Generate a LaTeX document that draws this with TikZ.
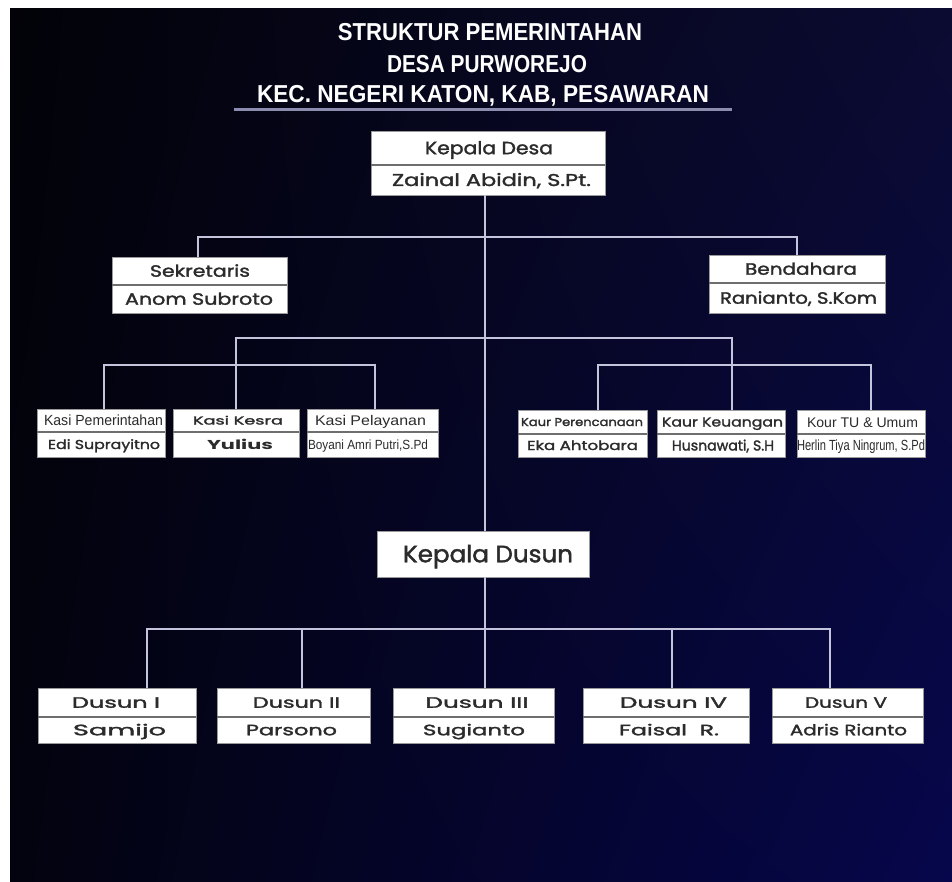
\documentclass[tikz,border=0pt]{standalone}
\usepackage{fontspec}
\usepackage{graphicx}
\usetikzlibrary{shadings}
\setmainfont{Poppins}
\newfontfamily\libs{Liberation Sans}
\newfontfamily\popm[FakeBold=1.6]{Poppins}
\definecolor{bgUL}{HTML}{020208}
\definecolor{bgUR}{HTML}{0B0B32}
\definecolor{bgLL}{HTML}{03030F}
\definecolor{bgLR}{HTML}{06064C}
\definecolor{txtgray}{HTML}{2B2B2B}
\definecolor{linecol}{HTML}{C4C4DC}
\definecolor{boxedge}{HTML}{9A9A9A}
\definecolor{divgray}{HTML}{6E6E6E}
\definecolor{ulcol}{HTML}{8C8CAE}
\newcommand\fitw[2]{\resizebox{#1pt}{\height}{#2}}
% name, x1, y1, x2, y2
\newcommand\bx[5]{\node[boxst, minimum width={(#4-#2)*1pt}, minimum height={(#5-#3)*1pt}] (#1) at ({(#2+#4)/2},{(#3+#5)/2}) {};}
% name, x, y, capheight, fontsize, width, fontcmd, text
\newcommand\tx[8]{\node[txt, font={#7\fontsize{#5}{#5}\selectfont}, text height=#4pt] (#1) at (#2,#3) {\fitw{#6}{#8}};}
\tikzset{
  boxst/.style={draw=boxedge, fill=white, line width=0.8pt, inner sep=0pt, outer sep=0pt},
  divst/.style={draw=divgray, line width=1.5pt},
  con/.style={draw=linecol, line width=2.5pt},
  txt/.style={inner sep=0pt, outer sep=0pt, text=txtgray, text depth=0pt, anchor=center},
  ttl/.style={inner sep=0pt, outer sep=0pt, text=white, text depth=0pt, anchor=center,
    font={\libs\bfseries\fontsize{24.5}{24.5}\selectfont}, text height=17.5pt},
}
\begin{document}
\begin{tikzpicture}[x=1pt,y=-1pt]
\useasboundingbox (0,0) rectangle (952,882);
\fill[white] (0,0) rectangle (952,882);
\shade[upper left=bgUL, upper right=bgUR, lower left=bgLL, lower right=bgLR] (10,9) rectangle (952,882);

% title
\node[ttl] (t1) at (490,32) {\fitw{304}{STRUKTUR PEMERINTAHAN}};
\node[ttl] (t2) at (487,64) {\fitw{200}{DESA PURWOREJO}};
\node[ttl] (t3) at (483,94) {\fitw{452}{KEC. NEGERI KATON, KAB, PESAWARAN}};
\draw[draw=ulcol, line width=3pt] (234,110) -- (732,110);

\coordinate (sp1) at (485,237);
% boxes
\bx{kd}{371}{131}{605}{195}
\bx{sek}{112}{257}{287}{313}
\bx{ben}{709}{255}{885}{313}
\bx{kpem}{37}{409}{165}{457}
\bx{kkes}{173}{409}{299}{457}
\bx{kpel}{307}{409}{438}{457}
\bx{kper}{518}{410}{647}{457}
\bx{kkeu}{657}{410}{785}{457}
\bx{ktu}{797}{410}{925}{457}
\bx{kdus}{377}{531}{589}{577}
\bx{d1}{38}{688}{196}{743}
\bx{d2}{217}{688}{370}{743}
\bx{d3}{393}{688}{554}{743}
\bx{d4}{583}{688}{749}{743}
\bx{d5}{772}{688}{923}{743}

% connectors
\draw[con] (kd.south -| 485,0) -- (kdus.north -| 485,0);
\draw[con] (kdus.south -| 485,0) -- (d3.north -| 485,0);
\draw[con] (sek.north -| 198,0) |- (sp1) -| (ben.north -| 797,0);
\draw[con] (kkes.north -| 236,0) |- (485,338) -| (kkeu.north -| 732,0);
\draw[con] (kpem.north -| 104,0) |- (236,365) -| (kpel.north -| 375,0);
\draw[con] (kper.north -| 598,0) |- (732,365) -| (ktu.north -| 871,0);
\draw[con] (d1.north -| 147,0) |- (485,629) -| (d5.north -| 830,0);
\draw[con] (d2.north -| 302,0) -- (302,629);
\draw[con] (d4.north -| 672,0) -- (672,629);

% dividers
\draw[divst] (371,165) -- (605,165);
\draw[divst] (112,285) -- (287,285);
\draw[divst] (709,283) -- (885,283);
\draw[divst] (37,432) -- (165,432);
\draw[divst] (173,432) -- (299,432);
\draw[divst] (307,432) -- (438,432);
\draw[divst] (518,434) -- (647,434);
\draw[divst] (657,434) -- (785,434);
\draw[divst] (797,434) -- (925,434);
\foreach \a/\b in {38/196,217/370,393/554,583/749,772/923}
  \draw[divst] (\a,717) -- (\b,717);

% texts
\tx{kd-t}{489}{148}{12.5}{17.8}{128}{\popm}{Kepala Desa}
\tx{kd-b}{491.5}{180}{12}{17.1}{199}{\popm}{Zainal Abidin, S.Pt.}
\tx{sek-t}{200}{271}{11.5}{16.4}{100}{\popm}{Sekretaris}
\tx{sek-b}{199}{299}{11.5}{16.4}{148}{\popm}{Anom Subroto}
\tx{ben-t}{801}{269}{11.5}{16.4}{112}{\popm}{Bendahara}
\tx{ben-b}{798.5}{298}{11.5}{16.4}{157}{\popm}{Ranianto, S.Kom}

\tx{kpem-t}{103.5}{420.5}{10.5}{14.7}{119}{\libs}{Kasi Pemerintahan}
\tx{kpem-b}{104}{444.5}{9}{12.9}{112}{\popm}{Edi Suprayitno}
\tx{kkes-t}{238}{420.5}{8}{11.4}{90}{\popm}{Kasi Kesra}
\tx{kkes-b}{240}{444.5}{9}{12.9}{66}{\bfseries}{Yulius}
\tx{kpel-t}{370.5}{420.5}{10}{14}{111}{\libs}{Kasi Pelayanan}
\tx{kpel-b}{368}{444.5}{9.5}{13.3}{120}{\libs}{Boyani Amri Putri,S.Pd}

\tx{kper-t}{582}{422}{8}{11.4}{122}{\popm}{Kaur Perencanaan}
\tx{kper-b}{582.5}{445.5}{9}{12.9}{111}{\popm}{Eka Ahtobara}
\tx{kkeu-t}{722.5}{422}{9}{12.9}{121}{\popm}{Kaur Keuangan}
\tx{kkeu-b}{723}{445.5}{10}{14.3}{102}{\popm}{Husnawati, S.H}
\tx{ktu-t}{862.5}{422}{10}{14}{111}{\libs}{Kour TU \& Umum}
\tx{ktu-b}{861}{445.5}{10.5}{14.7}{128}{\libs}{Herlin Tiya Ningrum, S.Pd}

\tx{kdus-t}{488}{554}{16.5}{23.6}{170}{\popm}{Kepala Dusun}

\tx{d1-t}{116}{702.5}{10.5}{15}{88}{\popm}{Dusun I}
\tx{d1-b}{119.5}{730}{10.5}{15}{93}{\popm}{Samijo}
\tx{d2-t}{296.5}{702.5}{10.5}{15}{87}{\popm}{Dusun II}
\tx{d2-b}{291.5}{730}{10.5}{15}{91}{\popm}{Parsono}
\tx{d3-t}{477}{702.5}{10.5}{15}{103}{\popm}{Dusun III}
\tx{d3-b}{474}{730}{10.5}{15}{102}{\popm}{Sugianto}
\tx{d4-t}{673.5}{702.5}{10.5}{15}{107}{\popm}{Dusun IV}
\tx{d4-b}{669}{730}{10.5}{15}{100}{\popm}{Faisal~~R.}
\tx{d5-t}{846}{702.5}{10.5}{15}{82}{\popm}{Dusun V}
\tx{d5-b}{848.5}{730}{10.5}{15}{117}{\popm}{Adris Rianto}
\end{tikzpicture}
\end{document}
